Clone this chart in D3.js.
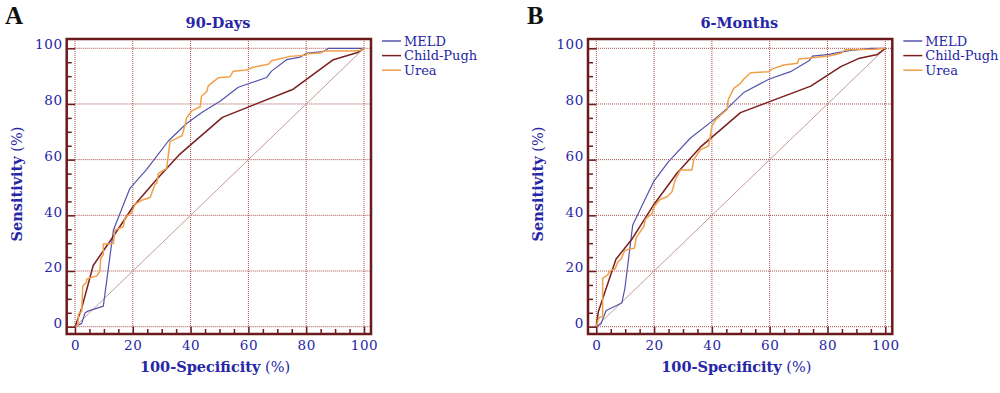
<!DOCTYPE html>
<html>
<head>
<meta charset="utf-8">
<script src="https://cdn.jsdelivr.net/npm/d3@7"></script>
<style>
  body { margin: 0; background: #fff; }
  svg { display: block; }
</style>
</head>
<body>
<script>
// ROC points: [100-specificity, sensitivity]
let meld90 = [[0,0],[2.3,1.2],[3.5,5],[4.5,5.6],[9.8,7.4],[13.3,34.7],[19,49.7],[24.8,56.5],[32.3,66.7],[38.6,73],[44,77],[50.2,81],[56.5,86],[66.3,89.5],[68,91.8],[73.2,95.9],[77.9,96.8],[80.2,98.3],[86,98.8],[87.7,100],[100,100]];
let child90 = [[0,0],[2.3,6.6],[6.3,22],[13.3,32.5],[20,43],[28.3,53],[36.3,62],[51,75.2],[75.5,85.3],[89.4,95.9],[97.5,98.4],[100,100]];
let urea90 = [[0,0],[1,0.5],[1.2,4.5],[2.3,5.5],[2.7,14.6],[4,16],[4,17],[5.2,17.6],[7.5,18.2],[8.6,20],[8.9,24.5],[9.8,26],[9.8,29.7],[13.3,29.9],[13.8,34.7],[16.7,35.9],[17.3,39.2],[19.6,41],[20.8,44],[23.1,45.4],[26,46.4],[27.7,51.2],[28.3,51.5],[28.8,55],[31.7,56.9],[32.3,61.7],[32.9,66.5],[36.3,68.3],[37,68.5],[38.1,72.5],[38.6,75],[40.4,77.5],[43.3,79],[43.8,82.8],[45.6,84.5],[46.1,86.5],[47.9,88],[49.6,89.4],[53.6,89.8],[54.8,91.8],[59.4,92.2],[61.7,93.2],[66.9,94.3],[68,95.5],[74.4,97.1],[79.6,97.5],[80.2,98],[84.8,98.3],[86,99],[95.2,99],[98.5,99.2],[100,100]];

let meld6m = [[0,0],[1.6,1],[3.4,5.8],[8.8,8.5],[9.9,13.8],[12.6,36.5],[19.8,52.1],[25,59.3],[32.5,67.7],[40.6,74.3],[45.3,78.4],[51,84.1],[59.7,88.9],[67.2,91.6],[73.6,95.5],[74.8,97.2],[80.5,97.8],[84.6,98.6],[88,99.2],[95,100],[100,100]];
let child6m = [[0,0],[0.7,5.4],[6.8,24.2],[12.5,31.7],[20,44],[27.9,55.1],[36,64.5],[49.9,76.9],[74.2,86.4],[84.6,93.4],[90.7,96.3],[97.3,97.8],[100,100]];
let urea6m = [[0,0],[0.7,2.6],[1.2,3.4],[2.2,3.6],[2.2,17.4],[3.9,18.6],[5,20.2],[6.5,20.7],[7.4,23.1],[8.6,24.4],[9.8,27.2],[11,27.8],[13.2,28.2],[13.8,32],[16.4,35.9],[17,38.6],[19.3,40.7],[19.9,43.1],[22.2,45.8],[24.5,46.7],[26.2,48.5],[27.3,52.7],[27.9,53.9],[29.1,56.3],[33.1,56.3],[33.7,59.9],[34.8,61.7],[36,63.5],[38.9,65],[40,72],[41.2,74.2],[43,76],[45.3,78],[45.6,81.4],[46.4,83.2],[47.6,85.6],[49.9,87.4],[51,88.9],[53.4,91.2],[59.7,91.6],[60.9,92.6],[64.9,94],[69.6,94.6],[70.1,96.2],[76.5,96.8],[80.5,97.2],[84.6,98.2],[86.2,99.5],[96.2,99.7],[100,100]];

let seriesNames = ["MELD", "Child-Pugh", "Urea"];
let seriesColors = ["#5353ab", "#7a1f1f", "#f0a04a"];
let panelTitles = ["90-Days", "6-Months"];
let panelLetters = ["A", "B"];
let majorTicks = [0, 20, 40, 60, 80, 100];
let minorTicks = d3.range(0, 101, 5).filter(v => v % 20 != 0);

let canvasW = 1000;
let canvasH = 393;
let blue = "#2626a6";
let frameColor = "#6b1b1b";
let gridColor = "#a84c4c";
let serif = "'DejaVu Serif', serif";

let svg = d3.select("body").append("svg")
  .attr("width", canvasW)
  .attr("height", canvasH);

let x = d3.scaleLinear().domain([0, 100]).range([75, 364]);
let y = d3.scaleLinear().domain([0, 100]).range([326.7, 48.3]);

let frameL = 66.7, frameR = 371, frameT = 39, frameB = 334;

function drawPanel(offset, series, title, letter) {
  let g = svg.append("g").attr("transform", "translate(" + offset + ",0)");

  // dotted grid
  g.selectAll(".hgrid").data(majorTicks).enter().append("line")
    .attr("x1", frameL).attr("x2", frameR)
    .attr("y1", d => y(d)).attr("y2", d => y(d))
    .attr("stroke", gridColor).attr("stroke-width", 1)
    .attr("stroke-dasharray", "1,1");
  g.selectAll(".vgrid").data(majorTicks).enter().append("line")
    .attr("y1", frameT).attr("y2", frameB)
    .attr("x1", d => x(d)).attr("x2", d => x(d))
    .attr("stroke", gridColor).attr("stroke-width", 1)
    .attr("stroke-dasharray", "1,1");

  // reference diagonal
  g.append("line")
    .attr("x1", x(0)).attr("y1", y(0))
    .attr("x2", x(100)).attr("y2", y(100))
    .attr("stroke", "#c49a9a").attr("stroke-width", 1);

  let line = d3.line().x(d => x(d[0])).y(d => y(d[1]));
  let widths = [1.2, 1.5, 1.5];
  series.forEach((s, i) => {
    g.append("path")
      .attr("d", line(s))
      .attr("fill", "none")
      .attr("stroke", seriesColors[i])
      .attr("stroke-width", widths[i])
      .attr("stroke-linejoin", "round");
  });

  // frame
  g.append("rect")
    .attr("x", frameL).attr("y", frameT)
    .attr("width", frameR - frameL).attr("height", frameB - frameT)
    .attr("fill", "none").attr("stroke", frameColor).attr("stroke-width", 2.5);

  // axes with inward ticks
  let yAxis = g.append("g").attr("transform", "translate(" + frameL + ",0)")
    .call(d3.axisLeft(y).tickValues(majorTicks).tickSize(-(x(0) - frameL)).tickPadding(4));
  let yMinor = g.append("g").attr("transform", "translate(" + frameL + ",0)")
    .call(d3.axisLeft(y).tickValues(minorTicks).tickSize(-5).tickFormat(""));
  let xAxis = g.append("g").attr("transform", "translate(0," + frameB + ")")
    .call(d3.axisBottom(x).tickValues(majorTicks).tickSize(-(frameB - y(0))).tickPadding(6));
  let xMinor = g.append("g").attr("transform", "translate(0," + frameB + ")")
    .call(d3.axisBottom(x).tickValues(minorTicks).tickSize(-5).tickFormat(""));

  [yAxis, yMinor, xAxis, xMinor].forEach(a => {
    a.select(".domain").remove();
    a.selectAll(".tick line").attr("stroke", frameColor).attr("stroke-width", 1.5);
    a.selectAll("text")
      .attr("fill", blue)
      .attr("font-family", serif)
      .attr("font-size", "13.5px")
      .attr("letter-spacing", "0.6px");
  });
  yAxis.selectAll("text").attr("dy", "0.05em");

  // titles
  g.append("text")
    .attr("x", 218).attr("y", 28)
    .attr("text-anchor", "middle")
    .attr("font-family", serif).attr("font-weight", "bold")
    .attr("font-size", "14.5px").attr("fill", blue)
    .text(title);

  g.append("text")
    .attr("x", 14).attr("y", 24)
    .attr("text-anchor", "middle")
    .attr("font-family", "'Liberation Serif', serif").attr("font-weight", "bold")
    .attr("font-size", "25px").attr("fill", "#111")
    .text(letter);

  let xt = g.append("text")
    .attr("x", 215).attr("y", 372)
    .attr("text-anchor", "middle")
    .attr("font-family", serif)
    .attr("font-size", "14.5px").attr("fill", blue);
  xt.append("tspan").attr("font-weight", "bold").text("100-Specificity");
  xt.append("tspan").text(" (%)");

  let yt = g.append("text")
    .attr("transform", "translate(22,184) rotate(-90)")
    .attr("text-anchor", "middle")
    .attr("font-family", serif)
    .attr("font-size", "14.5px").attr("fill", blue);
  yt.append("tspan").attr("font-weight", "bold").text("Sensitivity");
  yt.append("tspan").text(" (%)");

  // legend
  let leg = g.selectAll(".leg").data(seriesNames).enter().append("g")
    .attr("transform", (d, i) => "translate(382," + (41 + i * 14.6) + ")");
  leg.append("line")
    .attr("x1", 0).attr("x2", 19)
    .attr("stroke", (d, i) => seriesColors[i]).attr("stroke-width", 1.5);
  leg.append("text")
    .attr("x", 22).attr("y", 4.5)
    .attr("font-family", serif).attr("font-size", "13px")
    .attr("fill", blue)
    .text(d => d);
}

drawPanel(0, [meld90, child90, urea90], panelTitles[0], panelLetters[0]);
drawPanel(521.3, [meld6m, child6m, urea6m], panelTitles[1], panelLetters[1]);
</script>
</body>
</html>
